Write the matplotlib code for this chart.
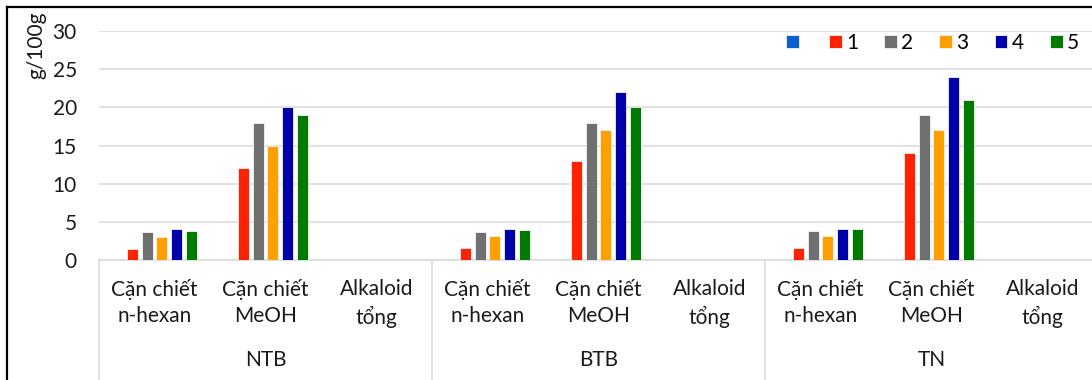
import matplotlib
matplotlib.use('Agg')
import matplotlib.pyplot as plt
import numpy as np
from matplotlib.lines import Line2D

plt.rcParams['font.family'] = ['Lato', 'DejaVu Sans']

# Data: three sites, three fractions each, five samples (series "" is empty)
groups = ['NTB', 'BTB', 'TN']
fractions = ['Cặn chiết\nn-hexan', 'Cặn chiết\nMeOH', 'Alkaloid\ntổng']
series_labels = ['', '1', '2', '3', '4', '5']
series_colors = ['#0A5FCC', '#FF2200', '#707070', '#FFA000', '#0000AA', '#007A00']

nan = np.nan
s0 = [nan, nan, nan, nan, nan, nan, nan, nan, nan]
s1 = [1.5, 12.0, nan, 1.6, 13.0, nan, 1.6, 14.0, nan]
s2 = [3.7, 18.0, nan, 3.7, 18.0, nan, 3.8, 19.0, nan]
s3 = [3.0, 15.0, nan, 3.2, 17.0, nan, 3.2, 17.0, nan]
s4 = [4.1, 20.0, nan, 4.1, 22.0, nan, 4.1, 24.0, nan]
s5 = [3.8, 19.0, nan, 3.9, 20.0, nan, 4.1, 21.0, nan]
series = [s0, s1, s2, s3, s4, s5]

W, H = 1092, 380
FS = 15
TXT = '#1A1A1A'
fig = plt.figure(figsize=(W / 100, H / 100), dpi=100)
# plot area runs slightly past the right edge of the image
ax = fig.add_axes([99 / W, (H - 260) / H, 999 / W, 229 / H])

n_cat = len(groups) * len(fractions)
x = np.arange(n_cat)
slot = 0.132
bars = []
for i, (vals, col) in enumerate(zip(series, series_colors)):
    b = ax.bar(x + (i - 2.5) * slot, vals, width=0.1, color=col,
               edgecolor='#F4F4F4', linewidth=0.6, zorder=3)
    bars.append(b)

ax.set_xlim(-0.5, n_cat - 0.5)
ax.set_ylim(0, 30)
ax.set_yticks(range(0, 31, 5))
ax.yaxis.grid(True, color='#D9D9D9', linewidth=1.1, zorder=0)
ax.set_axisbelow(True)
for side in ['left', 'right', 'top']:
    ax.spines[side].set_visible(False)
ax.spines['bottom'].set_color('#D9D9D9')
ax.spines['bottom'].set_linewidth(1.1)

ax.set_xticks(x)
ax.set_xticklabels(fractions * len(groups), fontsize=FS, color=TXT,
                   linespacing=1.35)
ax.tick_params(axis='x', length=0, pad=14)
ax.tick_params(axis='y', length=0, pad=16, labelsize=FS, labelcolor=TXT)

# separators of the two-level category axis
trans = ax.get_xaxis_transform()
for xs in np.arange(-0.5, n_cat, 3):
    ax.add_line(Line2D([xs, xs], [0, -0.53], transform=trans, color='#D9D9D9',
                       linewidth=1.1, clip_on=False))
for g, name in enumerate(groups):
    ax.text(g * 3 + 1, -0.435, name, transform=trans, ha='center', va='center',
            fontsize=FS, color=TXT)

fig.text(36 / W, 1 - 45 / H, 'g/100g', rotation=90, ha='center', va='center',
         fontsize=FS, color=TXT)

ax.legend([b.patches[0] for b in bars], series_labels, ncol=6, frameon=False,
          loc='center right', bbox_to_anchor=((1079 - 99) / 999, 1 - (43 - 31) / 229),
          fontsize=FS, handlelength=0.62, handleheight=0.62, handletextpad=0.2,
          columnspacing=1.25, borderaxespad=0, borderpad=0)

# black frame on the left and top edges
fig.add_artist(Line2D([7 / W, 7 / W], [0, 1 - 7 / H], color='black', linewidth=1.6))
fig.add_artist(Line2D([7 / W, 1], [1 - 7 / H, 1 - 7 / H], color='black', linewidth=1.6))

fig.savefig('out.png', dpi=100)
